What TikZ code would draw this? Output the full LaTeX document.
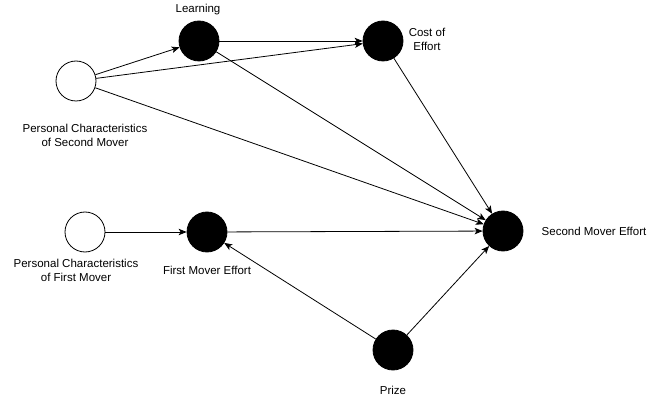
\documentclass[tikz,border=0pt]{standalone}
\usepackage{fontspec}
\setmainfont{Liberation Sans}
\usetikzlibrary{arrows.meta}
\begin{document}
\begin{tikzpicture}[x=1pt,y=-1pt,
  var/.style={circle,draw=black,line width=0.8pt,minimum size=40pt,inner sep=0pt},
  observed/.style={var,fill=white},
  latent/.style={var,fill=black},
  lbl/.style={font=\fontsize{11.5}{14}\selectfont,align=center,inner sep=0pt},
  link/.style={line width=0.8pt,-{Stealth[length=8pt,width=6.5pt,inset=2pt]}}]
\useasboundingbox (0,0) rectangle (654,401);
% nodes
\node[observed] (pcs) at (76,81) {};
\node[latent] (learn) at (199,41) {};
\node[latent] (cost) at (383,41) {};
\node[latent] (sme) at (503,231) {};
\node[observed] (pcf) at (85,232) {};
\node[latent] (fme) at (207,232) {};
\node[latent] (prize) at (393,350) {};
% labels
\node[lbl] (lLearn) at (198,10) {Learning};
\node[lbl] (lCost) at (427,39) {Cost of\\Effort};
\node[lbl] (lPcs) at (85,135) {Personal Characteristics\\of Second Mover};
\node[lbl] (lSme) at (594,231) {Second Mover Effort};
\node[lbl] (lPcf) at (76,270) {Personal Characteristics\\of First Mover};
\node[lbl] (lFme) at (207,270) {First Mover Effort};
\node[lbl] (lPrize) at (393,390) {Prize};
% connectors
\draw[link] (pcs) -- (learn);
\draw[link] (pcs) -- (cost);
\draw[link] (pcs) -- (sme);
\draw[link] (learn) -- (cost);
\draw[link] (learn) -- (sme);
\draw[link] (cost) -- (sme);
\draw[link] (pcf) -- (fme);
\draw[link] (fme) -- (sme);
\draw[link] (prize) -- (fme);
\draw[link] (prize) -- (sme);
\end{tikzpicture}
\end{document}
